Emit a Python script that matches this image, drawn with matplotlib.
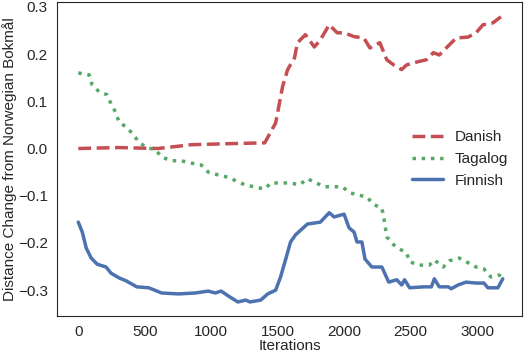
import matplotlib
matplotlib.use("Agg")
import matplotlib.pyplot as plt
import seaborn as sns

# values
danish_x = [0, 300, 600, 851, 1100, 1403, 1485, 1537, 1575, 1627, 1649, 1709, 1776, 1821,
            1888, 1948, 2000, 2075, 2149, 2194, 2269, 2321, 2373, 2433, 2470, 2545, 2619,
            2672, 2716, 2769, 2843, 2933, 2993, 3045, 3119, 3180]
danish_y = [0.0, 0.002, 0.0, 0.008, 0.01, 0.012, 0.054, 0.131, 0.167, 0.192, 0.224, 0.241,
            0.215, 0.230, 0.262, 0.245, 0.245, 0.237, 0.234, 0.213, 0.224, 0.188, 0.177,
            0.167, 0.177, 0.183, 0.188, 0.203, 0.198, 0.213, 0.234, 0.236, 0.245, 0.262,
            0.266, 0.279]

tagalog_x = [0, 82, 104, 157, 216, 246, 284, 306, 358, 403, 455, 507, 582, 627, 701, 776,
             851, 925, 978, 1052, 1127, 1254, 1403, 1448, 1500, 1597, 1664, 1724, 1851,
             1985, 2045, 2172, 2224, 2284, 2299, 2321, 2373, 2418, 2470, 2493, 2567, 2642,
             2679, 2746, 2791, 2866, 2933, 2993, 3052, 3104, 3164, 3180]
tagalog_y = [0.160, 0.156, 0.135, 0.120, 0.114, 0.095, 0.075, 0.056, 0.046, 0.033, 0.014,
             0.003, -0.003, -0.018, -0.026, -0.026, -0.031, -0.035, -0.050, -0.056, -0.061,
             -0.077, -0.086, -0.073, -0.073, -0.073, -0.077, -0.064, -0.081, -0.081, -0.094,
             -0.103, -0.119, -0.126, -0.147, -0.187, -0.204, -0.213, -0.221, -0.240, -0.247,
             -0.247, -0.236, -0.251, -0.238, -0.232, -0.242, -0.251, -0.255, -0.272, -0.268,
             -0.270]

finnish_x = [0, 30, 60, 97, 142, 209, 246, 306, 358, 440, 530, 627, 754, 881, 978, 1030,
             1075, 1127, 1201, 1261, 1291, 1373, 1425, 1485, 1522, 1560, 1597, 1634, 1724,
             1821, 1888, 1925, 2000, 2037, 2075, 2097, 2134, 2157, 2209, 2284, 2336, 2396,
             2433, 2455, 2493, 2597, 2657, 2679, 2716, 2784, 2806, 2858, 2918, 2993, 3052,
             3082, 3157, 3194]
finnish_y = [-0.156, -0.177, -0.211, -0.232, -0.245, -0.251, -0.264, -0.274, -0.280,
             -0.293, -0.295, -0.306, -0.308, -0.306, -0.302, -0.306, -0.302, -0.312,
             -0.325, -0.321, -0.325, -0.321, -0.308, -0.300, -0.272, -0.235, -0.198,
             -0.183, -0.160, -0.156, -0.136, -0.145, -0.139, -0.168, -0.177, -0.198,
             -0.198, -0.234, -0.251, -0.251, -0.283, -0.278, -0.289, -0.278, -0.295,
             -0.293, -0.293, -0.276, -0.293, -0.293, -0.297, -0.289, -0.283, -0.285,
             -0.285, -0.295, -0.295, -0.276]

sns.set_style("white")
plt.rcParams['font.family'] = ['Liberation Sans', 'DejaVu Sans']

fig = plt.figure(figsize=(5.28, 3.54), dpi=100)
ax = fig.add_axes([0.108, 0.107, 0.881, 0.887])

# old seaborn "deep" colours
red, green, blue = "#C44E52", "#55A868", "#4C72B0"
ax.plot(danish_x, danish_y, '--', color=red, lw=2.5, label="Danish")
ax.plot(tagalog_x, tagalog_y, ':', color=green, lw=2.5, label="Tagalog")
ax.plot(finnish_x, finnish_y, '-', color=blue, lw=2.5, label="Finnish")

ax.set_xlim(-160, 3340)
ax.set_ylim(-0.355, 0.31)
ax.set_xticks([0, 500, 1000, 1500, 2000, 2500, 3000])
ax.set_yticks([-0.3, -0.2, -0.1, 0.0, 0.1, 0.2, 0.3])
ax.tick_params(labelsize=11, pad=3)
ax.set_xlabel("Iterations", fontsize=11, labelpad=0)
ax.set_ylabel("Distance Change from Norwegian Bokmål", fontsize=11, labelpad=1)
ax.legend(loc="center right", frameon=False, fontsize=11)

fig.savefig("out.png", dpi=100)
